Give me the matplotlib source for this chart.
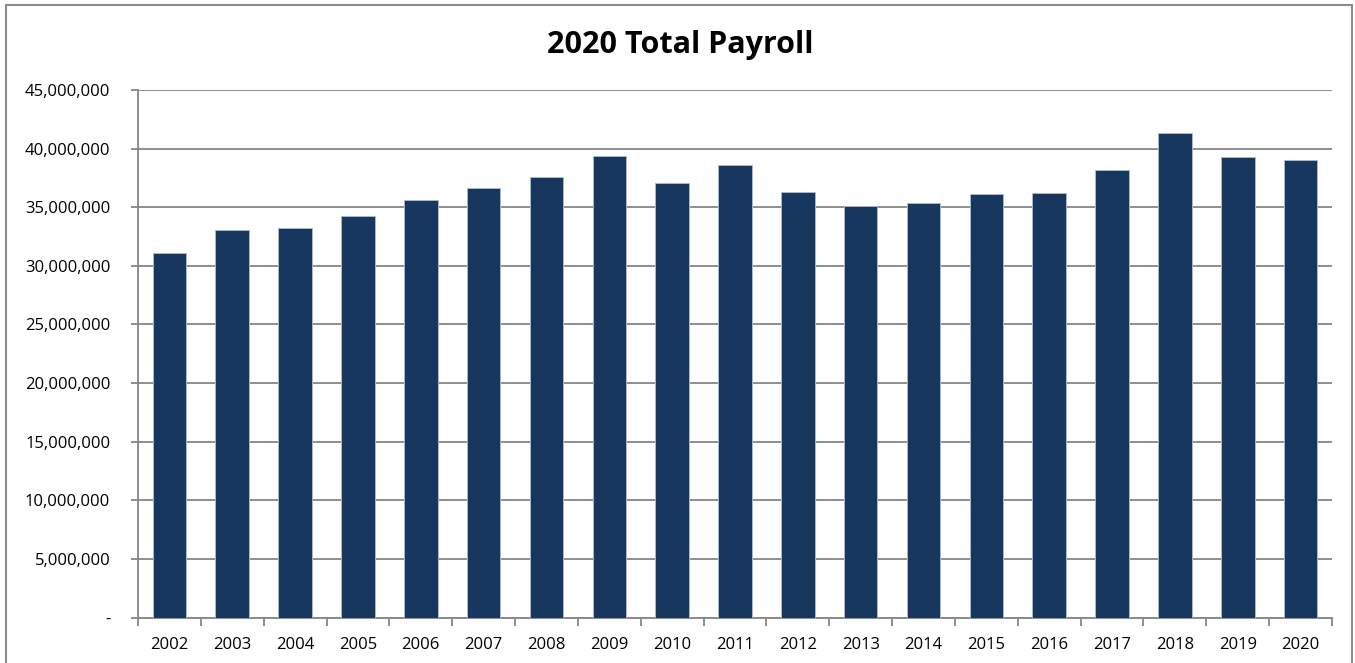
import matplotlib.pyplot as plt
from matplotlib.patches import Rectangle
import matplotlib.ticker as mticker

# payroll by year
years = ['2002', '2003', '2004', '2005', '2006', '2007', '2008', '2009', '2010', '2011',
         '2012', '2013', '2014', '2015', '2016', '2017', '2018', '2019', '2020']
payroll = [31.1, 33.03, 33.23, 34.23, 35.6, 36.6, 37.58, 39.4, 37.06, 38.57,
           36.3, 35.12, 35.37, 36.12, 36.23, 38.18, 41.29, 39.29, 39.03]  # millions
yticks = [0, 5, 10, 15, 20, 25, 30, 35, 40, 45]  # millions

plt.rcParams['font.family'] = ['Open Sans', 'DejaVu Sans']

fig = plt.figure(figsize=(13.55, 6.63), dpi=100)
ax = fig.add_axes([138/1355, 1 - 617.5/663, 1194/1355, 527.5/663])

# outer chart frame (bottom edge runs off the picture)
fig.patches.append(Rectangle((6/1355, -0.1), 1346/1355, 1.1 - 5/663, transform=fig.transFigure,
                             fill=False, edgecolor='#8c8c8c', linewidth=1.5))

x = range(len(years))
vals = [v * 1e6 for v in payroll]
ax.bar(x, vals, width=0.535, color='#17375E', edgecolor='#aab8cc', linewidth=0.7, zorder=3)

ax.set_xlim(-0.5, len(years) - 0.5)
ax.set_ylim(0, 45e6)
ax.set_yticks([t * 1e6 for t in yticks])
ax.yaxis.set_major_formatter(mticker.FuncFormatter(lambda v, p: '-' if v == 0 else f'{v:,.0f}'))
ax.set_xticks(list(x))
ax.set_xticklabels(years)
ax.set_xticks([i - 0.5 for i in range(len(years) + 1)], minor=True)

ax.grid(axis='y', color='#868686', linewidth=1.3, zorder=0)
for s in ['top', 'right']:
    ax.spines[s].set_visible(False)
for s in ['left', 'bottom']:
    ax.spines[s].set_color('#868686')
    ax.spines[s].set_linewidth(1.3)

ax.tick_params(axis='x', which='major', length=0, pad=14, labelsize=12, colors='black')
ax.tick_params(axis='x', which='minor', length=6, width=1.3, color='#868686')
ax.tick_params(axis='y', length=5, width=1.3, color='#868686', pad=15, labelsize=12, labelcolor='black')

fig.text(680/1355, 1 - 45/663, '2020 Total Payroll', ha='center', va='center',
         fontsize=22, fontweight='bold')

fig.savefig('out.png', dpi=100)
